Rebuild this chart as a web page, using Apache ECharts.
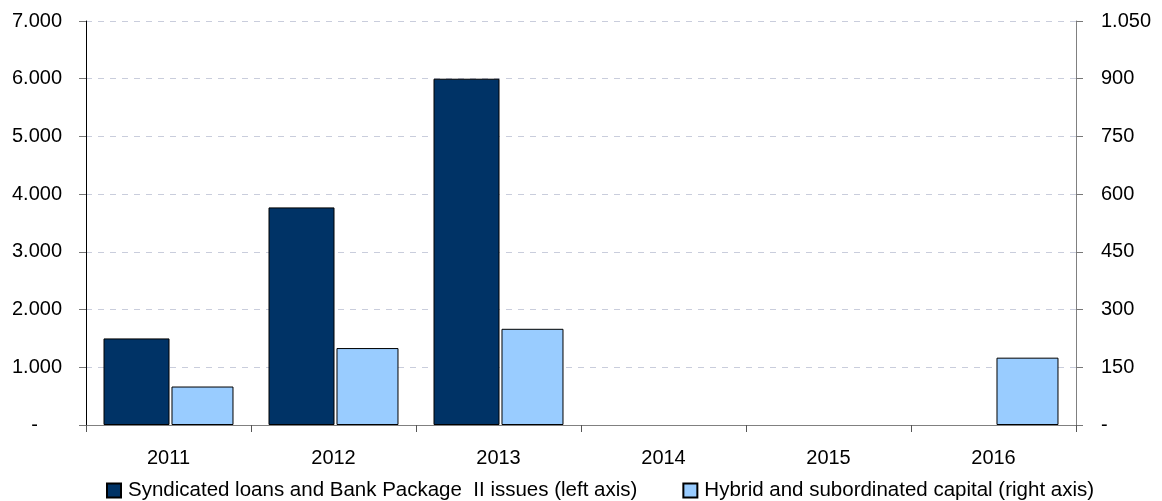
<!DOCTYPE html>
<html>
<head>
<meta charset="utf-8">
<script src="https://cdn.jsdelivr.net/npm/echarts@6/dist/echarts.min.js"></script>
<style>
  html, body { margin: 0; padding: 0; background: #fff; }
  #chart { width: 1162px; height: 501px; }
</style>
</head>
<body>
<div id="chart"></div>
<script>
// Issuance by year: syndicated loans (left axis) and hybrid capital (right axis)
const years = ['2011', '2012', '2013', '2014', '2015', '2016'];
const syndicatedLoans = [1500, 3770, 6000, 0, 0, 0];
const hybridCapital = [100, 200, 250, 0, 0, 175];
const seriesNames = [
  'Syndicated loans and Bank Package  II issues (left axis)',
  'Hybrid and subordinated capital (right axis)'
];

const FONT = '"Liberation Sans", Arial, sans-serif';

// Thousands separator as "." and zero shown as a dash
function fmt(v) {
  if (v === 0) return '-';
  return String(v).replace(/\B(?=(\d{3})+(?!\d))/g, '.');
}

// Years without issuance are left empty rather than drawn as flat bars
const asBars = arr => arr.map(v => (v === 0 ? '-' : v));

const chart = echarts.init(document.getElementById('chart'), null, { renderer: 'canvas' });

chart.setOption({
  animation: false,
  backgroundColor: '#ffffff',
  textStyle: { fontFamily: FONT, color: '#000' },
  grid: { left: 86, right: 86, top: 21, bottom: 76, containLabel: false },
  legend: {
    top: 480,
    left: 106,
    padding: 0,
    itemGap: 45,
    itemWidth: 14,
    itemHeight: 14,
    icon: 'rect',
    textStyle: { fontFamily: FONT, fontSize: 20.5, color: '#000', padding: [0, 0, 0, 2] },
    data: seriesNames
  },
  xAxis: {
    type: 'category',
    data: years,
    axisLine: { lineStyle: { color: '#808080', width: 1 } },
    axisTick: { show: true, length: 7, inside: false, lineStyle: { color: '#555' } },
    axisLabel: { fontFamily: FONT, fontSize: 20, color: '#000', margin: 23 }
  },
  yAxis: [
    {
      type: 'value',
      min: 0, max: 7000, interval: 1000,
      position: 'left',
      axisLine: { show: true, lineStyle: { color: '#000', width: 1 } },
      axisTick: { show: true, length: 7, lineStyle: { color: '#777' } },
      splitLine: { show: true, lineStyle: { color: '#c9cddc', type: [6, 6], width: 1 } },
      axisLabel: {
        fontFamily: FONT, fontSize: 20, color: '#000', margin: 24,
        formatter: v => v === 0 ? '{z|-}' : fmt(v),
        rich: { z: { fontFamily: FONT, fontSize: 20, color: '#000', padding: [0, 24, 0, 0] } }
      }
    },
    {
      type: 'value',
      min: 0, max: 1050, interval: 150,
      position: 'right',
      axisLine: { show: true, lineStyle: { color: '#808080', width: 1 } },
      axisTick: { show: true, length: 7, lineStyle: { color: '#777' } },
      splitLine: { show: false },
      axisLabel: { fontFamily: FONT, fontSize: 20, color: '#000', margin: 25, formatter: fmt }
    }
  ],
  series: [
    {
      name: seriesNames[0],
      type: 'bar',
      yAxisIndex: 0,
      data: asBars(syndicatedLoans),
      barWidth: 66,
      barGap: '3%',
      itemStyle: { color: '#003366', borderColor: '#000', borderWidth: 1 }
    },
    {
      name: seriesNames[1],
      type: 'bar',
      yAxisIndex: 1,
      data: asBars(hybridCapital),
      barWidth: 62,
      barGap: '3%',
      itemStyle: { color: '#99ccff', borderColor: '#000', borderWidth: 1 }
    }
  ]
});
</script>
</body>
</html>
